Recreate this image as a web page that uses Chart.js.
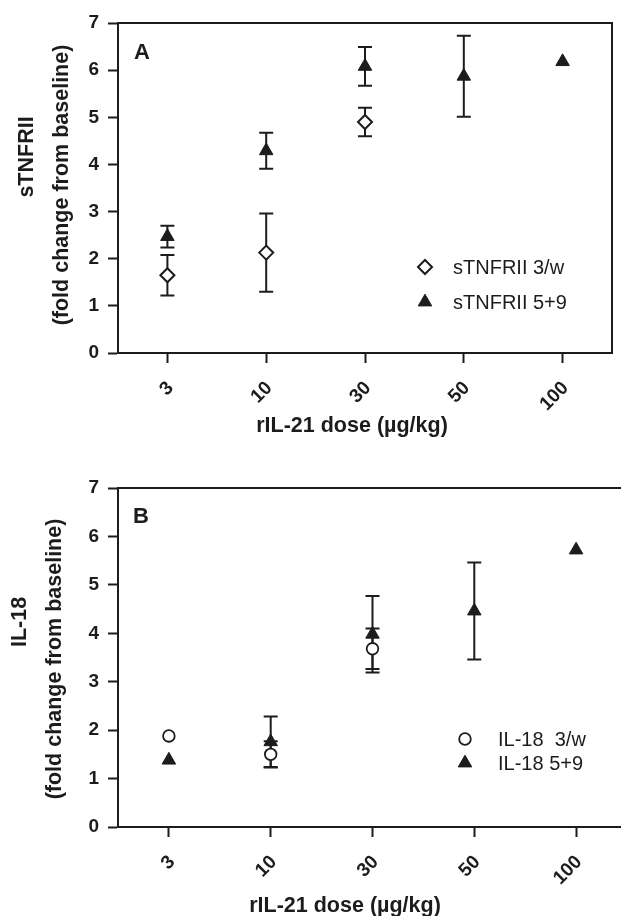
<!DOCTYPE html>
<html>
<head>
<meta charset="utf-8">
<title>rIL-21 dose response</title>
<script src="https://cdn.jsdelivr.net/npm/chart.js@4.4.1/dist/chart.umd.min.js"></script>
<style>
  html, body { margin: 0; padding: 0; background: #fff; overflow: hidden; }
  .panel { position: relative; }
  #wrapA { width: 621px; height: 455px; }
  #wrapB { width: 640px; height: 461px; }
</style>
</head>
<body>
<div id="wrapA" class="panel"><canvas id="chartA"></canvas></div>
<div id="wrapB" class="panel"><canvas id="chartB"></canvas></div>
<script>
// ---- data ---------------------------------------------------------------
const doses = ['3', '10', '30', '50', '100'];

// A: sTNFRII, fold change from baseline (mean and +/- error)
const tnf3w    = [1.65, 2.13, 4.90, null, null];
const tnf3wErr = [0.43, 0.83, 0.30, null, null];
const tnf59    = [2.47, 4.29, 6.08, 5.87, 6.18];
const tnf59Err = [0.23, 0.38, 0.41, 0.86, null];

// B: IL-18, fold change from baseline
const il3w    = [1.88, 1.50, 3.68, null, null];
const il3wErr = [null, 0.27, 0.42, null, null];
const il59    = [1.38, 1.76, 3.98, 4.46, 5.72];
const il59Err = [null, 0.52, 0.79, 1.00, null];

// ---- styling --------------------------------------------------------------
const ink  = '#1c1c1c';
const FONT = '"Liberation Sans", Arial, Helvetica, sans-serif';

const diamond  = { pointStyle: 'rectRot',  pointRadius: 7,   pointBorderWidth: 2,   pointBackgroundColor: '#fff', pointBorderColor: ink };
const triangle = { pointStyle: 'triangle', pointRadius: 7.8, pointBorderWidth: 1,   pointBackgroundColor: ink,    pointBorderColor: ink };
const circle   = { pointStyle: 'circle',   pointRadius: 5.8, pointBorderWidth: 1.8, pointBackgroundColor: '#fff', pointBorderColor: ink };

// vertical error bars with caps, drawn under the markers
const errorBars = {
  id: 'errorBars',
  beforeDatasetsDraw(chart) {
    const { ctx, scales: { x, y } } = chart;
    ctx.save();
    ctx.strokeStyle = ink;
    ctx.lineWidth = 2;
    chart.data.datasets.forEach(ds => {
      (ds.errors || []).forEach((e, i) => {
        const v = ds.data[i];
        if (e == null || v == null) return;
        const px  = x.getPixelForValue(i);
        const top = y.getPixelForValue(v + e);
        const bot = y.getPixelForValue(v - e);
        ctx.beginPath();
        ctx.moveTo(px, top);       ctx.lineTo(px, bot);
        ctx.moveTo(px - 7, top);   ctx.lineTo(px + 7, top);
        ctx.moveTo(px - 7, bot);   ctx.lineTo(px + 7, bot);
        ctx.stroke();
      });
    });
    ctx.restore();
  }
};

// closes the plot box on the top and right side
const frame = {
  id: 'frame',
  beforeDatasetsDraw(chart) {
    const { ctx, chartArea: a } = chart;
    ctx.save();
    ctx.strokeStyle = ink;
    ctx.lineWidth = 2;
    ctx.beginPath();
    ctx.moveTo(a.left, a.top);
    ctx.lineTo(a.right, a.top);
    ctx.lineTo(a.right, a.bottom);
    ctx.stroke();
    ctx.restore();
  }
};

// axis titles, panel letter and the in-plot legend
const panelText = {
  id: 'panelText',
  afterDraw(chart, args, o) {
    const ctx = chart.ctx;
    ctx.save();
    ctx.fillStyle = ink;

    ctx.font = 'bold 22px ' + FONT;
    ctx.textAlign = 'left';
    ctx.textBaseline = 'alphabetic';
    ctx.fillText(o.letter, o.letterAt[0], o.letterAt[1]);

    ctx.font = 'bold 21.5px ' + FONT;
    ctx.textAlign = 'center';
    ctx.fillText('rIL-21 dose (µg/kg)', o.xTitleAt[0], o.xTitleAt[1]);

    ctx.textBaseline = 'middle';
    o.yTitle.forEach(([txt, cx, cy]) => {
      ctx.save();
      ctx.translate(cx, cy);
      ctx.rotate(-Math.PI / 2);
      ctx.fillText(txt, 0, 0);
      ctx.restore();
    });

    ctx.font = '20px ' + FONT;
    ctx.textAlign = 'left';
    o.legend.forEach(({ ds, y }) => {
      const d = chart.data.datasets[ds];
      ctx.fillStyle = d.pointBackgroundColor;
      ctx.strokeStyle = d.pointBorderColor;
      ctx.lineWidth = d.pointBorderWidth;
      Chart.helpers.drawPoint(ctx, {
        pointStyle: d.pointStyle, radius: d.pointRadius, rotation: 0, borderWidth: d.pointBorderWidth
      }, o.legendX, y);
      ctx.fillStyle = ink;
      ctx.fillText(d.label, o.legendX + o.legendGap, y + 1);
    });
    ctx.restore();
  }
};

function axisOpts(extra) {
  return Object.assign({
    grid:   { display: true, drawOnChartArea: false, drawTicks: true, tickLength: 10, tickWidth: 2, tickColor: ink, offset: false },
    border: { display: true, width: 2, color: ink },
  }, extra);
}

function buildChart(id, o) {
  return new Chart(document.getElementById(id), {
    type: 'line',
    data: { labels: doses, datasets: o.datasets },
    options: {
      responsive: true,
      maintainAspectRatio: false,
      animation: false,
      showLine: false,
      layout: { padding: { top: o.padTop, right: o.padRight, left: 0, bottom: 0 } },
      plugins: {
        legend:  { display: false },
        tooltip: { enabled: false },
        panelText: o.text,
      },
      scales: {
        x: axisOpts({
          type: 'category',
          offset: true,
          ticks: {
            color: ink, autoSkip: false, minRotation: 45, maxRotation: 45, padding: 14, labelOffset: 3,
            font: { family: FONT, size: 19, weight: 'bold' },
          },
          afterFit: s => { s.height = o.xHeight; },
        }),
        y: axisOpts({
          min: 0, max: 7,
          ticks: { stepSize: 1, color: ink, padding: 9, font: { family: FONT, size: 19, weight: 'bold' } },
          afterFit: s => { s.width = 118; },
        }),
      },
    },
    plugins: [frame, errorBars, panelText],
  });
}

buildChart('chartA', {
  padTop: 23, padRight: 7, xHeight: 102,
  datasets: [
    Object.assign({ label: 'sTNFRII 3/w', data: tnf3w, errors: tnf3wErr }, diamond),
    Object.assign({ label: 'sTNFRII 5+9', data: tnf59, errors: tnf59Err }, triangle),
  ],
  text: {
    letter: 'A', letterAt: [134, 59],
    xTitleAt: [352, 432],
    yTitle: [['sTNFRII', 27, 157], ['(fold change from baseline)', 62, 185]],
    legendX: 425, legendGap: 28,
    legend: [{ ds: 0, y: 267 }, { ds: 1, y: 302 }],
  },
});

buildChart('chartB', {
  padTop: 33, padRight: 13, xHeight: 89,
  datasets: [
    Object.assign({ label: 'IL-18  3/w', data: il3w, errors: il3wErr }, circle),
    Object.assign({ label: 'IL-18 5+9', data: il59, errors: il59Err }, triangle),
  ],
  text: {
    letter: 'B', letterAt: [133, 68],
    xTitleAt: [345, 457],
    yTitle: [['IL-18', 20, 167], ['(fold change from baseline)', 55, 204]],
    legendX: 465, legendGap: 33,
    legend: [{ ds: 0, y: 284 }, { ds: 1, y: 308 }],
  },
});
</script>
</body>
</html>
